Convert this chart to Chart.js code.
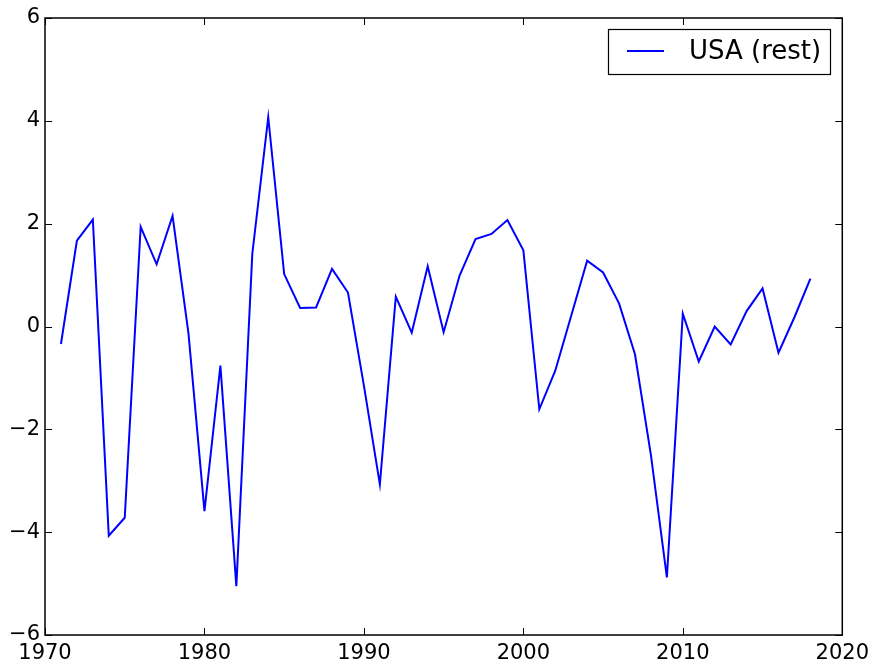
<!DOCTYPE html>
<html>
<head>
<meta charset="utf-8">
<script src="https://cdn.jsdelivr.net/npm/chart.js@4.4.1/dist/chart.umd.min.js"></script>
<style>
  html, body { margin: 0; padding: 0; background: #fff; }
  #wrap { width: 875px; height: 663px; position: relative; }
</style>
</head>
<body>
<div id="wrap"><canvas id="c" width="875" height="663"></canvas></div>
<script>
const years = [1971,1972,1973,1974,1975,1976,1977,1978,1979,1980,
               1981,1982,1983,1984,1985,1986,1987,1988,1989,1990,
               1991,1992,1993,1994,1995,1996,1997,1998,1999,2000,
               2001,2002,2003,2004,2005,2006,2007,2008,2009,2010,
               2011,2012,2013,2014,2015,2016,2017,2018];
const usaRest = [-0.34,1.67,2.08,-4.07,-3.72,1.94,1.21,2.15,-0.14,-3.59,
                 -0.76,-5.05,1.41,4.07,1.02,0.36,0.37,1.12,0.66,-1.15,
                 -3.07,0.58,-0.12,1.17,-0.11,0.99,1.70,1.80,2.07,1.48,
                 -1.61,-0.86,0.21,1.28,1.05,0.45,-0.54,-2.5,-4.88,0.25,
                 -0.68,0.0,-0.35,0.3,0.74,-0.51,0.18,0.93];
const seriesLabel = 'USA (rest)';
const xTicks = [1970,1980,1990,2000,2010,2020];
const yTicks = [-6,-4,-2,0,2,4,6];

const FONT = '"DejaVu Sans", sans-serif';

const innerTicks = {
  id: 'innerTicks',
  afterDraw(chart) {
    const {ctx, chartArea: a, scales: {x, y}} = chart;
    ctx.save();
    ctx.strokeStyle = '#000';
    ctx.lineWidth = 1;
    const L = 7;
    ctx.beginPath();
    xTicks.forEach(v => {
      const px = Math.round(x.getPixelForValue(v)) + 0.5;
      ctx.moveTo(px, a.bottom); ctx.lineTo(px, a.bottom - L);
      ctx.moveTo(px, a.top); ctx.lineTo(px, a.top + L);
    });
    yTicks.forEach(v => {
      const py = Math.round(y.getPixelForValue(v)) + 0.5;
      ctx.moveTo(a.left, py); ctx.lineTo(a.left + L, py);
      ctx.moveTo(a.right, py); ctx.lineTo(a.right - L, py);
    });
    ctx.stroke();
    ctx.lineWidth = 1.5;
    ctx.strokeRect(a.left, a.top, a.right - a.left, a.bottom - a.top);
    // legend
    const ds = chart.data.datasets[0];
    const bx = 608, by = 29, bw = 222, bh = 45;
    ctx.fillStyle = '#fff';
    ctx.fillRect(bx, by, bw, bh);
    ctx.lineWidth = 1.2;
    ctx.strokeStyle = '#000';
    ctx.strokeRect(bx + 0.5, by + 0.5, bw, bh);
    ctx.strokeStyle = ds.borderColor;
    ctx.lineWidth = ds.borderWidth;
    ctx.beginPath();
    ctx.moveTo(627, by + 22); ctx.lineTo(664, by + 22);
    ctx.stroke();
    ctx.fillStyle = '#000';
    ctx.font = '26px ' + FONT;
    ctx.textBaseline = 'middle';
    ctx.textAlign = 'left';
    ctx.fillText(ds.label, 689, by + 23);
    ctx.restore();
  }
};

new Chart(document.getElementById('c'), {
  type: 'line',
  data: {
    datasets: [{
      label: seriesLabel,
      data: years.map((yr, i) => ({x: yr, y: usaRest[i]})),
      borderColor: '#0000ff',
      borderWidth: 2,
      pointRadius: 0,
      tension: 0,
      fill: false
    }]
  },
  options: {
    responsive: false,
    animation: false,
    layout: { padding: { top: 18, right: 31, left: 0, bottom: 0 } },
    plugins: {
      legend: { display: false },
      tooltip: { enabled: false }
    },
    scales: {
      x: {
        type: 'linear',
        min: 1970, max: 2020,
        afterFit(s) { s.height = 28; },
        afterBuildTicks(s) { s.ticks = xTicks.map(v => ({value: v})); },
        grid: { display: false, drawTicks: false },
        border: { display: false },
        ticks: {
          padding: 6,
          color: '#000',
          font: { family: FONT, size: 21 },
          maxRotation: 0,
          autoSkip: false,
          callback: v => String(v)
        }
      },
      y: {
        type: 'linear',
        min: -6, max: 6,
        afterFit(s) { s.width = 45; },
        afterBuildTicks(s) { s.ticks = yTicks.map(v => ({value: v})); },
        grid: { display: false, drawTicks: false },
        border: { display: false },
        ticks: {
          padding: 5,
          color: '#000',
          font: { family: FONT, size: 21 },
          autoSkip: false,
          callback: v => String(v).replace('-', '\u2212')
        }
      }
    }
  },
  plugins: [innerTicks]
});
</script>
</body>
</html>
